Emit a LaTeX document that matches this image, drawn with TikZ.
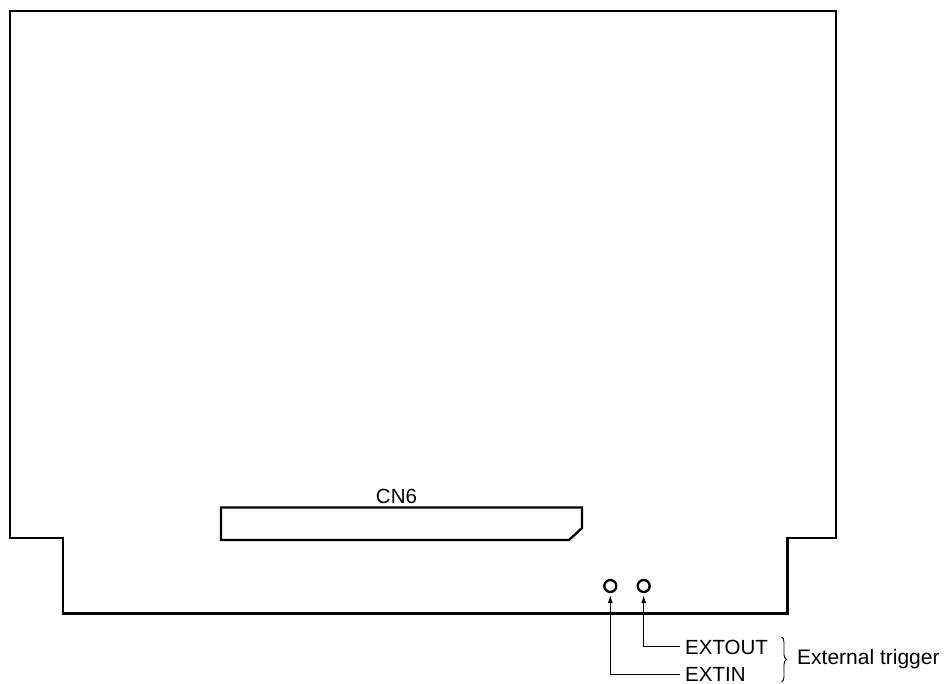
\documentclass[tikz,border=0pt]{standalone}
\usepackage{fontspec}
\setmainfont{Liberation Sans}
\usetikzlibrary{arrows.meta,decorations.pathreplacing}
\tikzset{
  outline/.style={line width=2.3pt,line join=miter},
  pin/.style={circle,draw,line width=2.3pt,minimum size=12pt,inner sep=0pt},
  lead/.style={line width=1pt,shorten >=2pt,-{Latex[length=8pt,width=5pt]}},
  lbl/.style={inner sep=0pt,font=\fontsize{20.5}{22}\selectfont},
}
\begin{document}
\begin{tikzpicture}[x=1pt,y=-1pt]
\useasboundingbox (0,0) rectangle (946,684);
\draw[outline] (10,11) -- (836,11) -- (836,538) -- (787.5,538) -- (787.5,613.5) -- (63,613.5) -- (63,538) -- (10,538) -- cycle;
\draw[outline] (221,507.5) -- (582,507.5) -- (582,528) -- (569,540) -- (221,540) -- cycle;
\node[lbl,anchor=base] (cn) at (396.5,504) {CN6};
\node[pin] (pinin) at (610.3,586) {};
\node[pin] (pinout) at (643.7,586) {};
\node[lbl,anchor=base west] (extout) at (685,654) {EXTOUT};
\node[lbl,anchor=base west] (extin) at (685,681) {EXTIN};
\node[lbl,anchor=base west,font=\fontsize{21}{23}\selectfont] (trig) at (797,664) {External trigger};
\draw[lead] (extout.base west) ++(-5,-8) coordinate (a) -| (pinout.south);
\draw[lead] (extin.base west) ++(-5,-7) coordinate (b) -| (pinin.south);
\draw[line width=0.9pt,decorate,decoration={brace,amplitude=5pt}] (781.5,637) -- (781.5,682);
\end{tikzpicture}
\end{document}
